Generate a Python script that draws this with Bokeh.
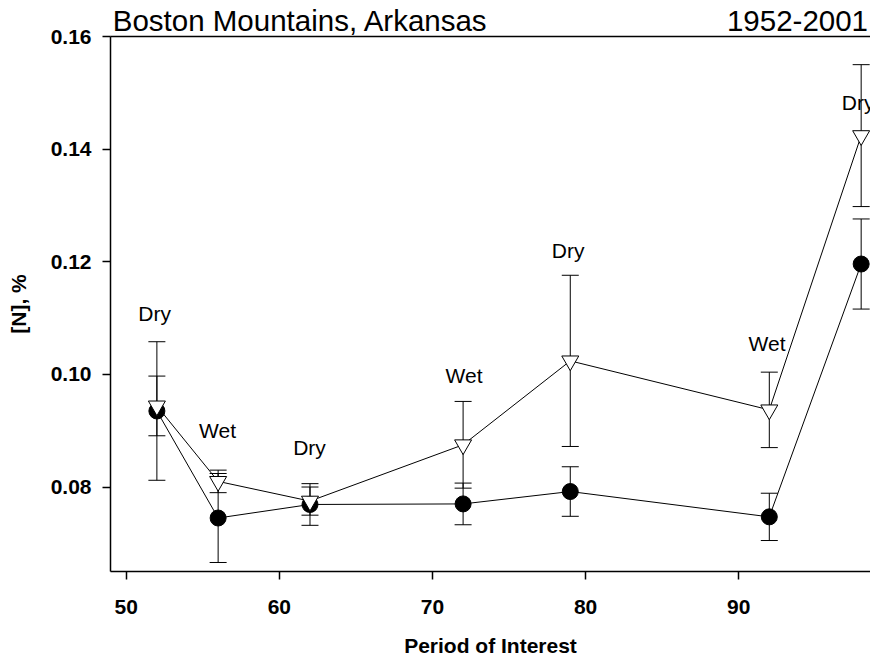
from bokeh.plotting import figure
from bokeh.models import (ColumnDataSource, Whisker, TeeHead, LinearAxis,
                          Range1d, FixedTicker, NumeralTickFormatter)
from bokeh.core.properties import value
from bokeh.embed import file_html
from bokeh.resources import INLINE

# ---- data ----
period = [52, 56, 62, 72, 79, 92, 98]
n_circle = [0.0935, 0.0745, 0.0769, 0.0770, 0.0792, 0.0747, 0.1196]
err_circle = [0.0123, 0.0079, 0.0037, 0.0037, 0.0044, 0.0042, 0.0080]
n_triangle = [0.0944, 0.0810, 0.0775, 0.0875, 0.1024, 0.0937, 0.1424]
err_triangle = [0.0053, 0.0020, 0.0025, 0.0077, 0.0152, 0.0067, 0.0126]

label_text = ["Dry", "Wet", "Dry", "Wet", "Dry", "Wet", "Dry"]
label_x = [51.85, 55.96, 61.97, 72.06, 78.86, 91.85, 97.8]
label_y = [0.1109, 0.0901, 0.0871, 0.0998, 0.1220, 0.1055, 0.1483]

x_ticks = [50, 60, 70, 80, 90]
y_ticks = [0.08, 0.10, 0.12, 0.14, 0.16]

title_left = "Boston Mountains, Arkansas"
title_right = "1952-2001"
x_label = "Period of Interest"
y_label = "[N], %"

FONT = "Liberation Sans"

src = ColumnDataSource(dict(
    x=period,
    c=n_circle,
    cu=[m + e for m, e in zip(n_circle, err_circle)],
    cl=[m - e for m, e in zip(n_circle, err_circle)],
    t=n_triangle,
    tu=[m + e for m, e in zip(n_triangle, err_triangle)],
    tl=[m - e for m, e in zip(n_triangle, err_triangle)],
))

p = figure(width=870, height=659,
           x_range=Range1d(48.97, 98.61), y_range=Range1d(0.065, 0.16),
           output_backend="svg", toolbar_location=None,
           min_border_left=110, min_border_right=0,
           min_border_top=36, min_border_bottom=88)
p.outline_line_color = None
p.grid.visible = False
p.background_fill_color = "white"
p.border_fill_color = "white"

for ax in (p.xaxis[0], p.yaxis[0]):
    ax.axis_line_width = 1.5
    ax.axis_line_color = "black"
    ax.major_tick_in = 0
    ax.major_tick_out = 8
    ax.major_tick_line_width = 1.5
    ax.minor_tick_line_color = None
    ax.major_label_text_font = FONT
    ax.major_label_text_font_style = "bold"
    ax.major_label_text_font_size = "21px"
    ax.major_label_text_color = "black"
    ax.axis_label_text_font = FONT
    ax.axis_label_text_font_style = "bold"
    ax.axis_label_text_font_size = "21px"
    ax.axis_label_text_color = "black"

p.xaxis.ticker = FixedTicker(ticks=x_ticks)
p.yaxis.ticker = FixedTicker(ticks=y_ticks)
p.yaxis.formatter = NumeralTickFormatter(format="0.00")
p.xaxis.major_label_standoff = 20
p.yaxis.major_label_standoff = 11
p.xaxis.axis_label = x_label
p.yaxis.axis_label = y_label
p.xaxis.axis_label_standoff = 17
p.yaxis.axis_label_standoff = 18

# top border line carrying the two title texts as labels (pixel range)
p.extra_x_ranges = {"px": Range1d(0, 760)}
top_axis = LinearAxis(x_range_name="px", ticker=FixedTicker(ticks=[190, 687]),
                      axis_line_width=1.5, axis_line_color="black",
                      major_tick_line_color=None, minor_tick_line_color=None,
                      major_label_overrides={190: title_left, 687: title_right},
                      major_label_text_font=FONT,
                      major_label_text_font_size="29.5px",
                      major_label_text_color="black",
                      major_label_standoff=-6)
p.add_layout(top_axis, "above")

# lines
p.line("x", "t", source=src, line_color="black", line_width=1)
p.line("x", "c", source=src, line_color="black", line_width=1)

# markers
p.scatter("x", "c", source=src, marker="circle", size=16,
          fill_color="black", line_color="black")
p.scatter("x", "t", source=src, marker="inverted_triangle", size=17,
          fill_color="white", line_color="black", line_width=1)

# error bars
for up, lo in (("cu", "cl"), ("tu", "tl")):
    w = Whisker(source=src, base="x", upper=up, lower=lo,
                line_color="black", line_width=1,
                upper_head=TeeHead(size=17, line_color="black", line_width=1),
                lower_head=TeeHead(size=17, line_color="black", line_width=1))
    p.add_layout(w)

# Dry / Wet annotations
p.text(x=label_x, y=label_y, text=label_text, text_font=value(FONT),
       text_font_size="21px", text_align="center", text_baseline="alphabetic",
       text_color="black")

open("out.html", "w").write(file_html(p, INLINE))
